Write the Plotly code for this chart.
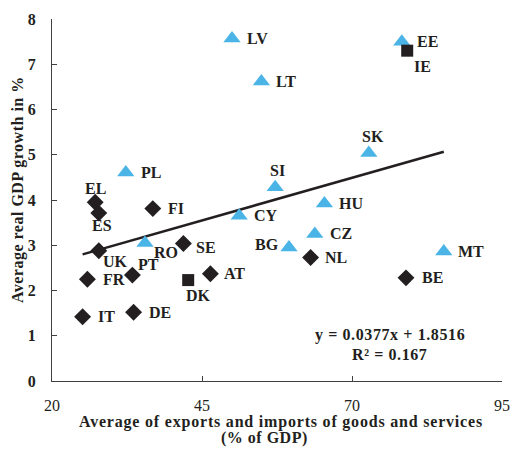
import plotly.graph_objects as go

# ---- data ----
tri_names = ["LV", "LT", "EE", "SK", "SI", "HU", "CY", "PL", "RO", "CZ", "BG", "MT"]
tri_x = [50.0, 54.9, 78.3, 72.8, 57.2, 65.4, 51.2, 32.3, 35.5, 63.8, 59.5, 85.3]
tri_y = [7.57, 6.62, 7.50, 5.04, 4.28, 3.92, 3.65, 4.61, 3.05, 3.25, 2.95, 2.86]

dia_names = ["EL", "ES", "FI", "UK", "SE", "FR", "PT", "AT", "IT", "DE", "NL", "BE"]
dia_x = [27.2, 27.8, 36.8, 27.8, 41.9, 25.9, 33.4, 46.4, 25.1, 33.6, 63.1, 79.0]
dia_y = [3.95, 3.71, 3.81, 2.88, 3.04, 2.25, 2.34, 2.37, 1.42, 1.52, 2.73, 2.28]

sq_names = ["IE", "DK"]
sq_x = [79.2, 42.7]
sq_y = [7.30, 2.23]

slope = 0.0377
intercept = 1.8516
r2 = 0.167

# label placement: (xanchor, xshift, yshift)
label_pos = {
    "LV": ("left", 13, 0), "LT": ("left", 13, 0), "EE": ("left", 13, 0),
    "SK": ("center", 4, 16), "SI": ("center", 2, 17), "HU": ("left", 13, 0),
    "CY": ("left", 13, 0), "PL": ("left", 13, 0), "RO": ("left", 7, -10),
    "CZ": ("left", 13, 0), "BG": ("right", -8, 3), "MT": ("left", 12, 0),
    "EL": ("center", 0, 14), "ES": ("center", 3, -12), "FI": ("left", 13, 0),
    "UK": ("left", 2, -11), "SE": ("left", 11, -4), "FR": ("left", 14, 0),
    "PT": ("left", 4, 11), "AT": ("left", 12, 0), "IT": ("left", 13, 0),
    "DE": ("left", 13, 0), "NL": ("left", 12, 0), "BE": ("left", 14, 0),
    "IE": ("center", 15, -16), "DK": ("center", 10, -15),
}

BLUE = "#4BB4E6"
BLACK = "#231F20"
FONT = "Liberation Serif"

fig = go.Figure()

all_x = tri_x + dia_x + sq_x
xmin, xmax = min(all_x), max(all_x)
fig.add_trace(go.Scatter(
    x=[xmin, xmax], y=[slope * xmin + intercept, slope * xmax + intercept],
    mode="lines", line=dict(color=BLACK, width=2.5), showlegend=False, hoverinfo="skip"))

fig.add_trace(go.Scatter(x=tri_x, y=tri_y, mode="markers",
                         marker=dict(symbol="triangle-up", size=15, color=BLUE),
                         showlegend=False))
fig.add_trace(go.Scatter(x=dia_x, y=dia_y, mode="markers",
                         marker=dict(symbol="diamond", size=13, color=BLACK),
                         showlegend=False))
fig.add_trace(go.Scatter(x=sq_x, y=sq_y, mode="markers",
                         marker=dict(symbol="square", size=12, color=BLACK),
                         showlegend=False))

annotations = []
for names, xs, ys in [(tri_names, tri_x, tri_y), (dia_names, dia_x, dia_y), (sq_names, sq_x, sq_y)]:
    for n, xv, yv in zip(names, xs, ys):
        xa, xs_, ys_ = label_pos[n]
        annotations.append(dict(x=xv, y=yv, text="<b>%s</b>" % n, showarrow=False,
                                xanchor=xa, yanchor="middle", xshift=xs_, yshift=ys_,
                                font=dict(family=FONT, size=16, color=BLACK)))

SP = '<span style="letter-spacing:%spx">%s</span>'
annotations.append(dict(xref="paper", yref="paper", x=0.751, y=0.127,
                        text="<b>" + SP % (0.6, "y = %.4fx + %.4f" % (slope, intercept)) + "</b>",
                        showarrow=False, xanchor="center", yanchor="middle",
                        font=dict(family=FONT, size=16, color=BLACK)))
annotations.append(dict(xref="paper", yref="paper", x=0.751, y=0.072,
                        text="<b>" + SP % (0.6, "R² = %.3f" % r2) + "</b>", showarrow=False,
                        xanchor="center", yanchor="middle",
                        font=dict(family=FONT, size=16, color=BLACK)))
annotations.append(dict(xref="paper", yref="paper", x=0.508, y=-0.113,
                        text="<b>" + SP % (0.8, "Average of exports and imports of goods and services") + "</b>",
                        showarrow=False, xanchor="center", yanchor="middle",
                        font=dict(family=FONT, size=16, color=BLACK)))
annotations.append(dict(xref="paper", yref="paper", x=0.473, y=-0.157,
                        text="<b>" + SP % (0.5, "(% of GDP)") + "</b>",
                        showarrow=False, xanchor="center", yanchor="middle",
                        font=dict(family=FONT, size=16, color=BLACK)))
annotations.append(dict(xref="paper", yref="paper", x=-0.0756, y=0.530,
                        text="<b>" + SP % (0.5, "Average real GDP growth in %") + "</b>", textangle=-90,
                        showarrow=False, xanchor="center", yanchor="middle",
                        font=dict(family=FONT, size=16, color=BLACK)))

fig.update_layout(
    width=512, height=449,
    margin=dict(l=52, r=10, t=19, b=68, autoexpand=False),
    paper_bgcolor="white", plot_bgcolor="white",
    annotations=annotations,
    showlegend=False,
)
fig.update_xaxes(range=[20, 95], tickvals=[20, 45, 70, 95], showgrid=False, zeroline=False,
                 showline=True, linecolor="#404040", linewidth=1,
                 ticks="inside", ticklen=5, tickcolor="#404040",
                 ticklabelstandoff=10, automargin=False, ticklabeloverflow="allow",
                 tickfont=dict(family=FONT, size=16, color=BLACK), tickprefix="<b>", ticksuffix="</b>")
fig.update_yaxes(range=[0, 8], dtick=1, showgrid=False, zeroline=False,
                 showline=True, linecolor="#404040", linewidth=1,
                 ticks="inside", ticklen=5, tickcolor="#404040",
                 ticklabelstandoff=12, automargin=False, ticklabeloverflow="allow",
                 tickfont=dict(family=FONT, size=16, color=BLACK), tickprefix="<b>", ticksuffix="</b>")

# remove the default page margin so the 512x449 figure fills the window exactly
fig.write_html("out.html", config={"displayModeBar": False},
               post_script="document.body.style.margin='0px';")
